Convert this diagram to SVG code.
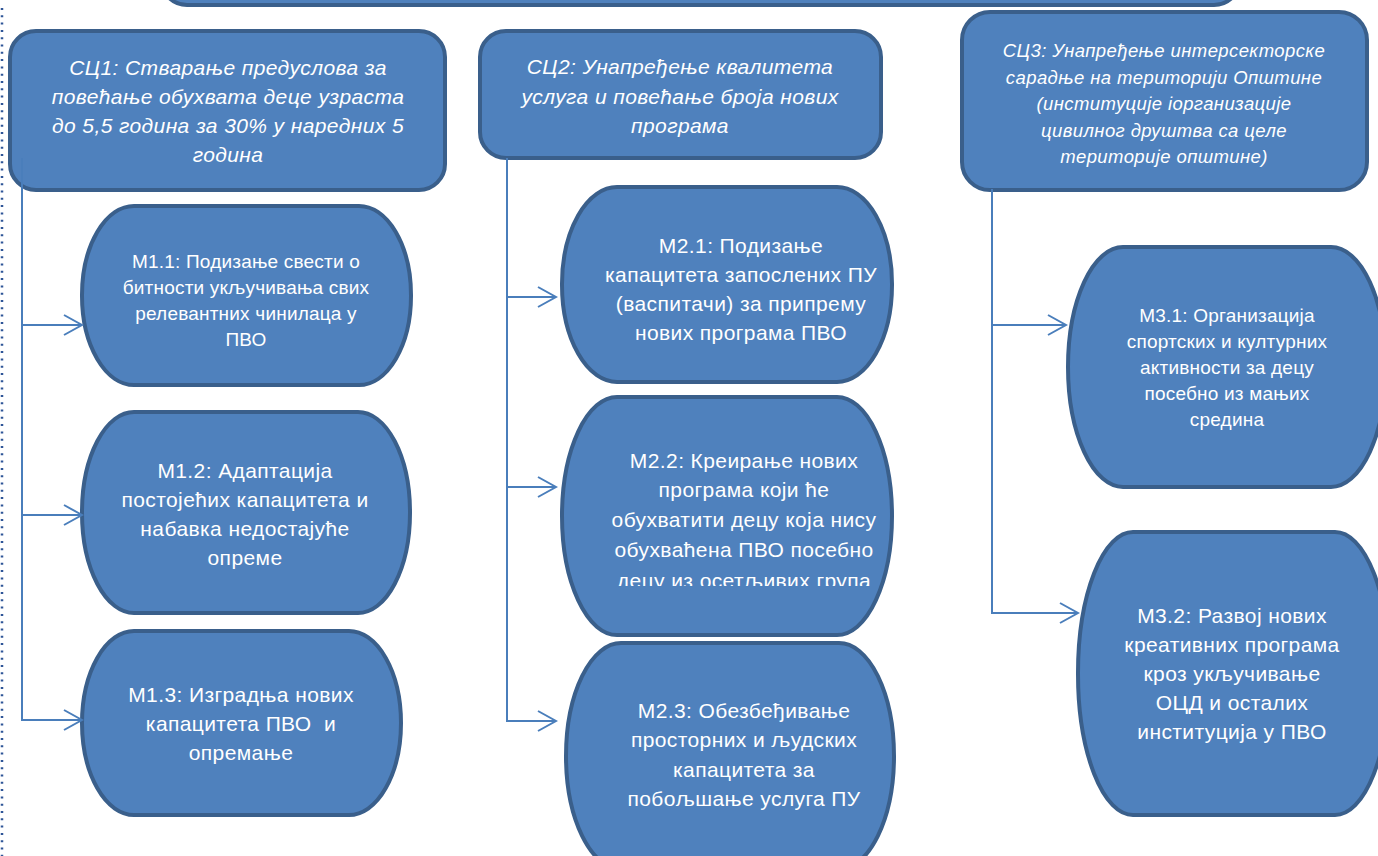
<svg xmlns="http://www.w3.org/2000/svg" width="1378" height="856" viewBox="0 0 1378 856">
<style>
.box{fill:#4F81BD;stroke:#3A5F8B;stroke-width:4}
.h{font-family:"Liberation Sans",Arial,sans-serif;font-style:italic;fill:#fff;text-anchor:middle;letter-spacing:0.4px}
.t{font-family:"Liberation Sans",Arial,sans-serif;fill:#fff;text-anchor:middle;letter-spacing:0.4px}
.c{fill:none;stroke:#4A7EBB;stroke-width:2}
</style>
<defs>
<marker id="arr" viewBox="-20 -12 22 24" refX="0" refY="0" markerWidth="22" markerHeight="24" markerUnits="userSpaceOnUse" orient="auto">
<path d="M-18,-10 L0,0 L-18,10" fill="none" stroke="#4A7EBB" stroke-width="2"/>
</marker>
<clipPath id="clip22"><rect x="540" y="390" width="380" height="196"/></clipPath>
</defs>
<rect width="1378" height="856" fill="#fff"/>
<line x1="2" y1="8" x2="2" y2="856" stroke="#2E5597" stroke-width="2.5" stroke-dasharray="2 5.3"/>
<g id="top"><rect class="box" x="161" y="-120" width="1079" height="125" rx="26"/></g>
<g id="sc1">
<rect class="box" x="10" y="31" width="435" height="159" rx="26"/>
<text class="h" font-size="21"><tspan x="228" y="75">СЦ1: Стварање предуслова за</tspan><tspan x="228" y="104">повећање обухвата деце узраста</tspan><tspan x="228" y="133">до 5,5 година за 30% у наредних 5</tspan><tspan x="228" y="162">година</tspan></text>
</g>
<g id="sc2">
<rect class="box" x="480" y="31" width="401" height="127" rx="26"/>
<text class="h" font-size="21"><tspan x="680" y="74">СЦ2: Унапређење квалитета</tspan><tspan x="680" y="104">услуга и повећање броја нових</tspan><tspan x="680" y="133">програма</tspan></text>
</g>
<g id="sc3">
<rect class="box" x="962" y="12" width="405" height="178" rx="28"/>
<text class="h" font-size="18.5"><tspan x="1164" y="57">СЦ3: Унапређење интерсекторске</tspan><tspan x="1164" y="83.5">сарадње на територији Општине</tspan><tspan x="1164" y="110">(институције іорганизације</tspan><tspan x="1164" y="136.5">цивилног друштва са целе</tspan><tspan x="1164" y="163">територије општине)</tspan></text>
</g>
<g id="m11">
<rect class="box" x="82" y="206" width="329" height="179" rx="52" ry="89"/>
<text class="t" font-size="19" style="letter-spacing:0.2px"><tspan x="246" y="268">М1.1: Подизање свести о</tspan><tspan x="246" y="294">битности укључивања свих</tspan><tspan x="246" y="320">релевантних чинилаца у</tspan><tspan x="246" y="346">ПВО</tspan></text>
</g>
<g id="m12">
<rect class="box" x="82" y="412" width="328" height="201" rx="52" ry="100"/>
<text class="t" font-size="21"><tspan x="245" y="478">М1.2: Адаптација</tspan><tspan x="245" y="507">постојећих капацитета и</tspan><tspan x="245" y="536">набавка недостајуће</tspan><tspan x="245" y="565">опреме</tspan></text>
</g>
<g id="m13">
<rect class="box" x="82" y="631" width="319" height="184" rx="52" ry="92"/>
<text class="t" font-size="21" xml:space="preserve"><tspan x="241" y="702">М1.3: Изградња нових</tspan><tspan x="241" y="731">капацитета ПВО  и</tspan><tspan x="241" y="760">опремање</tspan></text>
</g>
<g id="m21">
<rect class="box" x="562" y="187" width="330" height="195" rx="55" ry="97"/>
<text class="t" font-size="21"><tspan x="741" y="253">М2.1: Подизање</tspan><tspan x="741" y="282">капацитета запослених ПУ</tspan><tspan x="741" y="311">(васпитачи) за припрему</tspan><tspan x="741" y="340">нових програма ПВО</tspan></text>
</g>
<g id="m22">
<rect class="box" x="562" y="397" width="330" height="238" rx="55" ry="119"/>
<text class="t" font-size="21" clip-path="url(#clip22)"><tspan x="744" y="468">М2.2: Креирање нових</tspan><tspan x="744" y="497">програма који ће</tspan><tspan x="744" y="527">обухватити децу која нису</tspan><tspan x="744" y="557">обухваћена ПВО посебно</tspan><tspan x="744" y="588">децу из осетљивих група</tspan></text>
</g>
<g id="m23">
<rect class="box" x="566" y="643" width="328" height="226" rx="55" ry="113"/>
<text class="t" font-size="21"><tspan x="744" y="718">М2.3: Обезбеђивање</tspan><tspan x="744" y="747">просторних и људских</tspan><tspan x="744" y="777">капацитета за</tspan><tspan x="744" y="806">побољшање услуга ПУ</tspan></text>
</g>
<g id="m31">
<rect class="box" x="1068" y="247" width="318" height="240" rx="55" ry="120"/>
<text class="t" font-size="19" style="letter-spacing:0.2px"><tspan x="1227" y="322">М3.1: Организација</tspan><tspan x="1227" y="348">спортских и културних</tspan><tspan x="1227" y="374">активности за децу</tspan><tspan x="1227" y="400">посебно из мањих</tspan><tspan x="1227" y="426">средина</tspan></text>
</g>
<g id="m32">
<rect class="box" x="1078" y="532" width="312" height="283" rx="55" ry="141"/>
<text class="t" font-size="21"><tspan x="1232" y="623">М3.2: Развој нових</tspan><tspan x="1232" y="652">креативних програма</tspan><tspan x="1232" y="681">кроз укључивање</tspan><tspan x="1232" y="710">ОЦД и осталих</tspan><tspan x="1232" y="739">институција у ПВО</tspan></text>
</g>
<g id="connectors">
<path class="c" d="M22,158 V325 H82" marker-end="url(#arr)"/>
<path class="c" d="M22,158 V515 H82" marker-end="url(#arr)"/>
<path class="c" d="M22,158 V720 H82" marker-end="url(#arr)"/>
<path class="c" d="M507,158 V297 H556" marker-end="url(#arr)"/>
<path class="c" d="M507,158 V487 H556" marker-end="url(#arr)"/>
<path class="c" d="M507,158 V721 H556" marker-end="url(#arr)"/>
<path class="c" d="M992,189 V325 H1066" marker-end="url(#arr)"/>
<path class="c" d="M992,189 V613 H1078" marker-end="url(#arr)"/>
</g>
</svg>
